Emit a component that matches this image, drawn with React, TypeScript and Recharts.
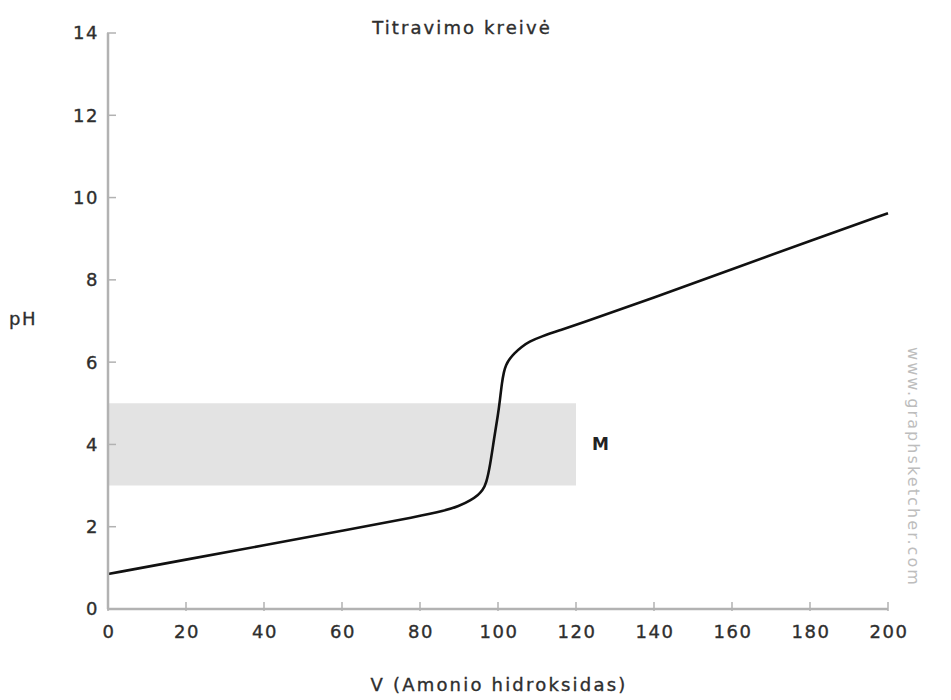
import React from 'react';
import { LineChart, Line, XAxis, YAxis, ReferenceArea } from 'recharts';

const volumes = [0, 20, 40, 60, 80, 86, 90, 93, 95, 96, 97, 98, 99, 100, 100.5, 101, 101.5, 102, 103, 104, 106, 108, 111, 116, 120, 140, 160, 180, 200];
const phValues = [0.85, 1.2, 1.55, 1.9, 2.26, 2.38, 2.5, 2.64, 2.78, 2.88, 3.05, 3.5, 4.15, 4.72, 5.08, 5.5, 5.76, 5.93, 6.08, 6.2, 6.37, 6.5, 6.62, 6.78, 6.9, 7.57, 8.26, 8.95, 9.62];
const xTicks = [0, 20, 40, 60, 80, 100, 120, 140, 160, 180, 200];
const yTicks = [0, 2, 4, 6, 8, 10, 12, 14];
const band = { x1: 0, x2: 120, y1: 3, y2: 5, label: 'M' };
const title = 'Titravimo kreivė';
const xLabel = 'V (Amonio hidroksidas)';
const yLabel = 'pH';
const watermark = 'www.graphsketcher.com';

const data = volumes.map((v, i) => ({ v, ph: phValues[i] }));

const FONT = '"DejaVu Sans", Verdana, sans-serif';
const AXIS_COLOR = '#b2b2b2';
const TEXT_COLOR = '#2e2e2e';
const X_MARGIN = 16;
const Y_MARGIN = 10;

const XTick = (props: any) => {
  const { x, y, payload } = props;
  const axisY = y - X_MARGIN;
  return (
    <g>
      <line x1={x} x2={x} y1={axisY + 2} y2={axisY - 7} stroke={AXIS_COLOR} strokeWidth={1.5} />
      <text x={x + 1} y={y} dy="0.74em" textAnchor="middle" fill={TEXT_COLOR} stroke={TEXT_COLOR} strokeWidth={0.35} fontSize={18} letterSpacing={1.5} fontFamily={FONT}>
        {payload.value}
      </text>
    </g>
  );
};

const YTick = (props: any) => {
  const { x, y, payload } = props;
  const axisX = x + Y_MARGIN;
  return (
    <g>
      <line x1={axisX - 1} x2={axisX + 8} y1={y} y2={y} stroke={AXIS_COLOR} strokeWidth={1.5} />
      <text x={x + 1} y={y} dy="0.36em" textAnchor="end" fill={TEXT_COLOR} stroke={TEXT_COLOR} strokeWidth={0.35} fontSize={18} letterSpacing={1.5} fontFamily={FONT}>
        {payload.value}
      </text>
    </g>
  );
};

const htmlText = (extra: React.CSSProperties): React.CSSProperties => ({
  position: 'absolute',
  fontFamily: FONT,
  color: TEXT_COLOR,
  whiteSpace: 'nowrap',
  WebkitTextStroke: '0.35px ' + TEXT_COLOR,
  ...extra,
});

export default function App() {
  return (
    <div style={{ position: 'absolute', left: 0, top: 0, width: 951, height: 700, background: '#fff' }}>
      <LineChart width={951} height={700} data={data} margin={{ top: 33, right: 63, left: 48, bottom: 51 }}>
        <XAxis
          dataKey="v"
          type="number"
          domain={[0, 200]}
          ticks={xTicks}
          height={40}
          tickSize={0}
          tickMargin={X_MARGIN}
          tick={<XTick />}
          axisLine={{ stroke: AXIS_COLOR, strokeWidth: 2.5 }}
          interval={0}
        />
        <YAxis
          type="number"
          domain={[0, 14]}
          ticks={yTicks}
          width={60}
          tickSize={0}
          tickMargin={Y_MARGIN}
          tick={<YTick />}
          axisLine={{ stroke: AXIS_COLOR, strokeWidth: 2.5 }}
          interval={0}
        />
        <ReferenceArea
          x1={band.x1}
          x2={band.x2}
          y1={band.y1}
          y2={band.y2}
          fill="#e3e3e3"
          fillOpacity={1}
          stroke="none"
          label={{ value: band.label, position: 'right', offset: 16, fill: '#222', fontSize: 17, fontWeight: 'bold', fontFamily: FONT }}
        />
        <Line
          dataKey="ph"
          type="basis"
          stroke="#111"
          strokeWidth={2.6}
          dot={false}
          activeDot={false}
          isAnimationActive={false}
        />
      </LineChart>
      <div style={htmlText({ left: 362, top: 17, width: 200, textAlign: 'center', fontSize: 18, letterSpacing: 2.1 })}>
        {title}
      </div>
      <div style={htmlText({ left: 9, top: 308, fontSize: 18, letterSpacing: 1.5 })}>
        {yLabel}
      </div>
      <div style={htmlText({ left: 349, top: 674, width: 300, textAlign: 'center', fontSize: 18, letterSpacing: 2.2 })}>
        {xLabel}
      </div>
      <div style={{ position: 'absolute', left: 913, top: 467, width: 0, height: 0 }}>
        <div style={{ position: 'absolute', left: 0, top: 0, transform: 'translate(-50%, -50%) rotate(90deg)', fontFamily: FONT, fontSize: 16, letterSpacing: 2.1, color: '#bdbdbd', whiteSpace: 'nowrap' }}>
          {watermark}
        </div>
      </div>
    </div>
  );
}
